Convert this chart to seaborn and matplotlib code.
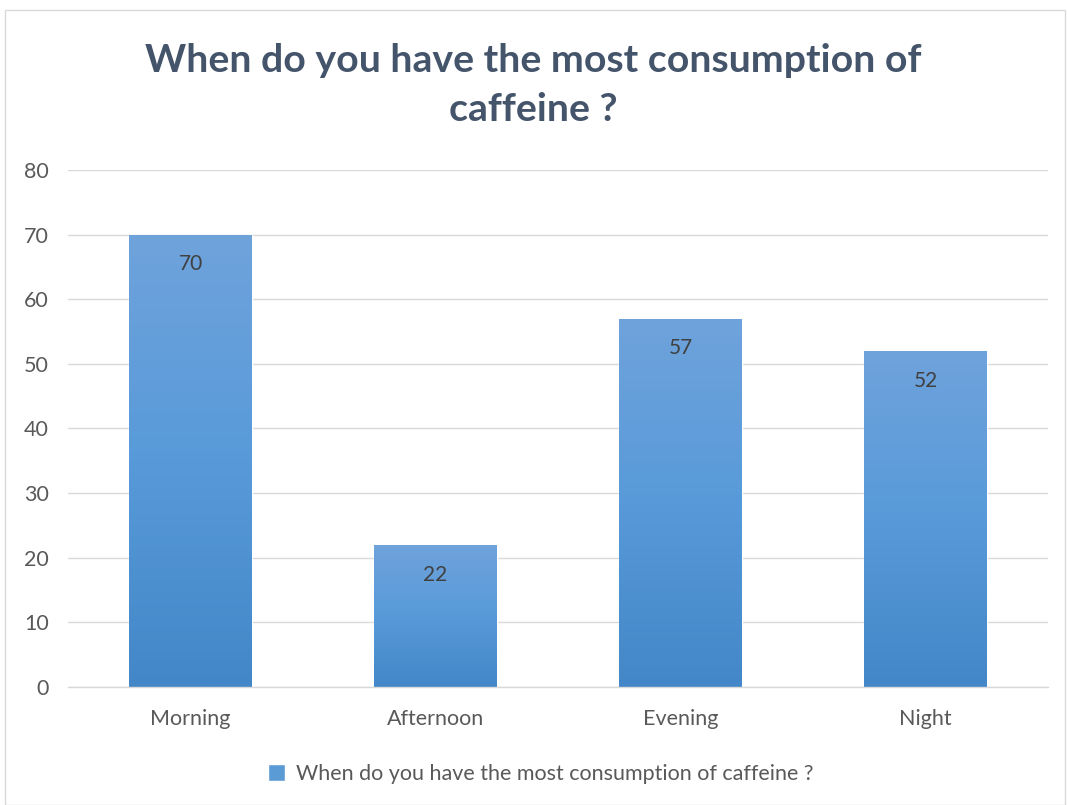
import numpy as np
import pandas as pd
import matplotlib
matplotlib.use("Agg")
import matplotlib.pyplot as plt
import seaborn as sns
from matplotlib.patches import Rectangle
from matplotlib.colors import LinearSegmentedColormap

categories = ["Morning", "Afternoon", "Evening", "Night"]
values = [70, 22, 57, 52]
series_name = "When do you have the most consumption of caffeine ?"
title_text = "When do you have the most consumption of\ncaffeine ?"
yticks = [0, 10, 20, 30, 40, 50, 60, 70, 80]

sns.set_theme(style="white")
plt.rcParams['font.family'] = ['Lato', 'DejaVu Sans']

df = pd.DataFrame({"cat": categories, "val": values})

W, H = 1067, 805
fig = plt.figure(figsize=(W / 100, H / 100), dpi=100)
ax = fig.add_axes([68 / W, 1 - 687 / H, (1048 - 68) / W, (687 - 170) / H])

sns.barplot(data=df, x="cat", y="val", ax=ax, color="#5b9bd5", width=0.5,
            saturation=1)

# gradient fill
cmap = LinearSegmentedColormap.from_list("g", ["#6fa3dc", "#589ad9", "#4387c8"])
grad = np.linspace(0, 1, 256).reshape(-1, 1)
for p in list(ax.patches):
    x0, y0 = p.get_x(), p.get_y()
    w, h = p.get_width(), p.get_height()
    im = ax.imshow(grad, cmap=cmap, aspect="auto", extent=(x0, x0 + w, y0, y0 + h),
                   origin="upper", zorder=p.get_zorder() + 0.1)
    im.set_clip_path(p)
    ax.text(x0 + w / 2, y0 + h - 4.6, f"{int(h)}", ha="center", va="center",
            fontsize=15, color="#404040", zorder=5)

ax.set_xlim(-0.5, 3.5)
ax.set_ylim(0, 80)
ax.set_yticks(yticks)
ax.yaxis.grid(True, color="#d9d9d9", linewidth=1)
ax.set_axisbelow(True)
for s in ["top", "right", "left"]:
    ax.spines[s].set_visible(False)
ax.spines["bottom"].set_color("#d9d9d9")
ax.spines["bottom"].set_linewidth(1)
ax.tick_params(axis="both", length=0, labelsize=15.5, labelcolor="#595959")
ax.tick_params(axis="y", pad=14)
ax.tick_params(axis="x", pad=16)
ax.set_xlabel("")
ax.set_ylabel("")
if ax.get_legend() is not None:
    ax.get_legend().remove()

fig.text(0.5, 1 - 85 / H, title_text, ha="center", va="center", fontsize=28.3,
         fontweight="bold", color="#44546a", linespacing=1.5)

handles = [Rectangle((0, 0), 1, 1, facecolor="#5b9bd5")]
fig.legend(handles, [series_name], loc="center", bbox_to_anchor=(0.507, 1 - 774 / H),
           frameon=False, fontsize=15.5, handlelength=0.8, handleheight=0.8,
           handletextpad=0.5, labelcolor="#595959")

fig.patches.append(Rectangle((5 / W, 0), (W - 7) / W, 1 - 10 / H, transform=fig.transFigure,
                             fill=False, edgecolor="#d9d9d9", linewidth=1))

fig.savefig("out.png", dpi=100, facecolor="white")
